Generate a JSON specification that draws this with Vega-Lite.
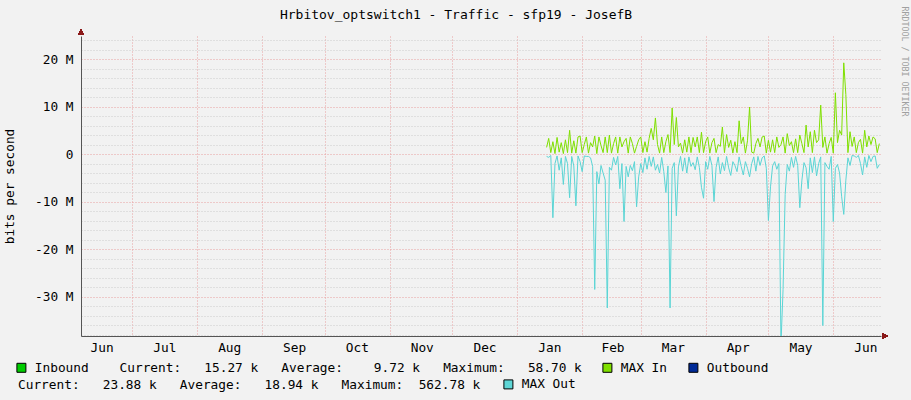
{
"$schema":"https://vega.github.io/schema/vega-lite/v6.json",
"width":800,"height":300,"autosize":"none",
"padding":{"left":81,"top":36,"right":30,"bottom":64},
"background":"#f2f2f2",
"title":{"text":"Hrbitov_optswitch1 - Traffic - sfp19 - JosefB","font":"DejaVu Sans Mono","fontSize":13,"fontWeight":"normal","color":"#000000","anchor":"middle","frame":"group","dx":-25,"offset":-16},
"config":{
  "view":{"fill":"#ffffff","stroke":null},
  "axis":{"labelFont":"DejaVu Sans Mono","labelFontSize":12.8,"labelColor":"#000000","titleFont":"DejaVu Sans Mono","titleFontSize":12.8,"titleFontWeight":"normal","titleColor":"#000000"},
  "legend":{"labelFont":"DejaVu Sans Mono","labelFontSize":12.8,"labelColor":"#000000","titleFont":"DejaVu Sans Mono","titleFontSize":12.8,"titleFontWeight":"normal","titleColor":"#000000","padding":0}
},
"data":{"values":[
{"date":"2025-01-15","max_in":1.4,"max_out":-0.5},
{"date":"2025-01-16","max_in":3.3,"max_out":-0.7},
{"date":"2025-01-17","max_in":0.3,"max_out":-0.3},
{"date":"2025-01-18","max_in":2.6,"max_out":-13.4},
{"date":"2025-01-19","max_in":0.1,"max_out":-2.0},
{"date":"2025-01-20","max_in":3.5,"max_out":-0.4},
{"date":"2025-01-21","max_in":0.4,"max_out":-3.4},
{"date":"2025-01-22","max_in":2.4,"max_out":-0.8},
{"date":"2025-01-23","max_in":0.1,"max_out":-6.4},
{"date":"2025-01-24","max_in":3.0,"max_out":-0.5},
{"date":"2025-01-25","max_in":0.3,"max_out":-2.0},
{"date":"2025-01-26","max_in":5.0,"max_out":-9.2},
{"date":"2025-01-27","max_in":0.2,"max_out":-0.5},
{"date":"2025-01-28","max_in":2.8,"max_out":-2.5},
{"date":"2025-01-29","max_in":0.2,"max_out":-10.9},
{"date":"2025-01-30","max_in":3.6,"max_out":-0.4},
{"date":"2025-01-31","max_in":3.8,"max_out":-1.6},
{"date":"2025-02-01","max_in":0.3,"max_out":-3.7},
{"date":"2025-02-02","max_in":2.0,"max_out":-0.4},
{"date":"2025-02-03","max_in":3.6,"max_out":-0.5},
{"date":"2025-02-04","max_in":0.2,"max_out":-0.5},
{"date":"2025-02-05","max_in":2.4,"max_out":-0.8},
{"date":"2025-02-06","max_in":1.5,"max_out":-2.6},
{"date":"2025-02-07","max_in":3.8,"max_out":-28.5},
{"date":"2025-02-08","max_in":0.1,"max_out":-3.7},
{"date":"2025-02-09","max_in":3.6,"max_out":-6.3},
{"date":"2025-02-10","max_in":1.8,"max_out":-2.4},
{"date":"2025-02-11","max_in":0.3,"max_out":-4.0},
{"date":"2025-02-12","max_in":3.6,"max_out":-5.5},
{"date":"2025-02-13","max_in":0.3,"max_out":-32.4},
{"date":"2025-02-14","max_in":4.0,"max_out":-2.8},
{"date":"2025-02-15","max_in":0.2,"max_out":-3.4},
{"date":"2025-02-16","max_in":2.2,"max_out":-0.7},
{"date":"2025-02-17","max_in":3.6,"max_out":-2.3},
{"date":"2025-02-18","max_in":0.2,"max_out":-0.5},
{"date":"2025-02-19","max_in":3.6,"max_out":-7.3},
{"date":"2025-02-20","max_in":1.5,"max_out":-2.0},
{"date":"2025-02-21","max_in":2.6,"max_out":-14.2},
{"date":"2025-02-22","max_in":3.3,"max_out":-2.6},
{"date":"2025-02-23","max_in":0.2,"max_out":-4.8},
{"date":"2025-02-24","max_in":3.6,"max_out":-2.4},
{"date":"2025-02-25","max_in":2.2,"max_out":-3.5},
{"date":"2025-02-26","max_in":0.2,"max_out":-1.6},
{"date":"2025-02-27","max_in":1.6,"max_out":-11.1},
{"date":"2025-02-28","max_in":3.0,"max_out":-4.8},
{"date":"2025-03-01","max_in":3.6,"max_out":-2.0},
{"date":"2025-03-02","max_in":0.3,"max_out":-3.9},
{"date":"2025-03-03","max_in":2.6,"max_out":-0.8},
{"date":"2025-03-04","max_in":0.4,"max_out":-3.2},
{"date":"2025-03-05","max_in":3.3,"max_out":-0.5},
{"date":"2025-03-06","max_in":5.4,"max_out":-2.6},
{"date":"2025-03-07","max_in":3.0,"max_out":-0.6},
{"date":"2025-03-08","max_in":7.6,"max_out":-3.4},
{"date":"2025-03-09","max_in":2.0,"max_out":-2.2},
{"date":"2025-03-10","max_in":0.2,"max_out":-4.0},
{"date":"2025-03-11","max_in":3.6,"max_out":-0.7},
{"date":"2025-03-12","max_in":0.3,"max_out":-3.7},
{"date":"2025-03-13","max_in":2.6,"max_out":-8.1},
{"date":"2025-03-14","max_in":4.1,"max_out":-2.5},
{"date":"2025-03-15","max_in":0.3,"max_out":-32.4},
{"date":"2025-03-16","max_in":9.7,"max_out":-3.0},
{"date":"2025-03-17","max_in":2.0,"max_out":-1.8},
{"date":"2025-03-18","max_in":7.7,"max_out":-13.0},
{"date":"2025-03-19","max_in":1.5,"max_out":-2.7},
{"date":"2025-03-20","max_in":2.3,"max_out":-0.5},
{"date":"2025-03-21","max_in":0.2,"max_out":-3.6},
{"date":"2025-03-22","max_in":3.0,"max_out":-0.8},
{"date":"2025-03-23","max_in":0.4,"max_out":-4.0},
{"date":"2025-03-24","max_in":3.6,"max_out":-0.6},
{"date":"2025-03-25","max_in":0.3,"max_out":-2.6},
{"date":"2025-03-26","max_in":3.5,"max_out":-1.8},
{"date":"2025-03-27","max_in":1.5,"max_out":-3.3},
{"date":"2025-03-28","max_in":3.6,"max_out":-0.6},
{"date":"2025-03-29","max_in":0.3,"max_out":-2.8},
{"date":"2025-03-30","max_in":4.6,"max_out":-7.0},
{"date":"2025-03-31","max_in":0.3,"max_out":-9.3},
{"date":"2025-04-01","max_in":2.6,"max_out":-1.6},
{"date":"2025-04-02","max_in":3.6,"max_out":-3.2},
{"date":"2025-04-03","max_in":0.2,"max_out":-0.5},
{"date":"2025-04-04","max_in":2.4,"max_out":-2.4},
{"date":"2025-04-05","max_in":3.3,"max_out":-10.0},
{"date":"2025-04-06","max_in":0.3,"max_out":-2.8},
{"date":"2025-04-07","max_in":2.0,"max_out":-0.6},
{"date":"2025-04-08","max_in":1.6,"max_out":-4.2},
{"date":"2025-04-09","max_in":5.7,"max_out":-1.8},
{"date":"2025-04-10","max_in":0.3,"max_out":-3.5},
{"date":"2025-04-11","max_in":4.1,"max_out":-0.5},
{"date":"2025-04-12","max_in":1.4,"max_out":-2.9},
{"date":"2025-04-13","max_in":2.9,"max_out":-4.5},
{"date":"2025-04-14","max_in":0.2,"max_out":-1.6},
{"date":"2025-04-15","max_in":2.6,"max_out":-2.4},
{"date":"2025-04-16","max_in":0.3,"max_out":-3.7},
{"date":"2025-04-17","max_in":7.0,"max_out":-0.6},
{"date":"2025-04-18","max_in":2.2,"max_out":-2.6},
{"date":"2025-04-19","max_in":3.6,"max_out":-4.4},
{"date":"2025-04-20","max_in":0.2,"max_out":-1.6},
{"date":"2025-04-21","max_in":2.8,"max_out":-3.0},
{"date":"2025-04-22","max_in":9.9,"max_out":-4.8},
{"date":"2025-04-23","max_in":0.4,"max_out":-2.0},
{"date":"2025-04-24","max_in":0.2,"max_out":-0.6},
{"date":"2025-04-25","max_in":2.2,"max_out":-3.6},
{"date":"2025-04-26","max_in":3.3,"max_out":-0.5},
{"date":"2025-04-27","max_in":1.5,"max_out":-2.4},
{"date":"2025-04-28","max_in":3.6,"max_out":-0.8},
{"date":"2025-04-29","max_in":3.8,"max_out":-0.4},
{"date":"2025-04-30","max_in":0.2,"max_out":-3.0},
{"date":"2025-05-01","max_in":2.9,"max_out":-14.0},
{"date":"2025-05-02","max_in":0.4,"max_out":-6.9},
{"date":"2025-05-03","max_in":3.0,"max_out":-2.5},
{"date":"2025-05-04","max_in":0.3,"max_out":-1.6},
{"date":"2025-05-05","max_in":3.6,"max_out":-3.2},
{"date":"2025-05-06","max_in":1.4,"max_out":-2.0},
{"date":"2025-05-07","max_in":2.0,"max_out":-40.0},
{"date":"2025-05-08","max_in":3.6,"max_out":-28.5},
{"date":"2025-05-09","max_in":0.2,"max_out":-8.5},
{"date":"2025-05-10","max_in":4.3,"max_out":-2.2},
{"date":"2025-05-11","max_in":1.8,"max_out":-3.6},
{"date":"2025-05-12","max_in":2.6,"max_out":-0.7},
{"date":"2025-05-13","max_in":0.3,"max_out":-2.8},
{"date":"2025-05-14","max_in":3.2,"max_out":-0.5},
{"date":"2025-05-15","max_in":0.3,"max_out":-2.4},
{"date":"2025-05-16","max_in":4.0,"max_out":-11.3},
{"date":"2025-05-17","max_in":2.2,"max_out":-5.5},
{"date":"2025-05-18","max_in":0.3,"max_out":-1.8},
{"date":"2025-05-19","max_in":6.1,"max_out":-2.9},
{"date":"2025-05-20","max_in":1.5,"max_out":-7.3},
{"date":"2025-05-21","max_in":4.7,"max_out":-0.8},
{"date":"2025-05-22","max_in":0.3,"max_out":-3.9},
{"date":"2025-05-23","max_in":5.0,"max_out":-0.6},
{"date":"2025-05-24","max_in":2.4,"max_out":-4.6},
{"date":"2025-05-25","max_in":3.0,"max_out":-2.0},
{"date":"2025-05-26","max_in":10.3,"max_out":-0.6},
{"date":"2025-05-27","max_in":1.4,"max_out":-36.1},
{"date":"2025-05-28","max_in":3.6,"max_out":-1.8},
{"date":"2025-05-29","max_in":0.2,"max_out":-2.6},
{"date":"2025-05-30","max_in":2.2,"max_out":-3.2},
{"date":"2025-05-31","max_in":3.5,"max_out":-0.5},
{"date":"2025-06-01","max_in":0.2,"max_out":-14.2},
{"date":"2025-06-02","max_in":12.9,"max_out":-3.0},
{"date":"2025-06-03","max_in":2.4,"max_out":-2.2},
{"date":"2025-06-04","max_in":5.0,"max_out":-4.0},
{"date":"2025-06-05","max_in":4.0,"max_out":-9.0},
{"date":"2025-06-06","max_in":19.2,"max_out":-12.7},
{"date":"2025-06-07","max_in":12.5,"max_out":-5.5},
{"date":"2025-06-08","max_in":0.3,"max_out":-0.8},
{"date":"2025-06-09","max_in":4.7,"max_out":-2.4},
{"date":"2025-06-10","max_in":1.6,"max_out":-0.3},
{"date":"2025-06-11","max_in":3.6,"max_out":-0.4},
{"date":"2025-06-12","max_in":0.3,"max_out":-0.7},
{"date":"2025-06-13","max_in":2.4,"max_out":-0.3},
{"date":"2025-06-14","max_in":3.1,"max_out":-2.0},
{"date":"2025-06-15","max_in":0.2,"max_out":-4.4},
{"date":"2025-06-16","max_in":5.0,"max_out":-0.6},
{"date":"2025-06-17","max_in":1.5,"max_out":-2.8},
{"date":"2025-06-18","max_in":3.8,"max_out":-0.3},
{"date":"2025-06-19","max_in":2.0,"max_out":-1.6},
{"date":"2025-06-20","max_in":3.6,"max_out":-0.5},
{"date":"2025-06-21","max_in":3.2,"max_out":-0.4},
{"date":"2025-06-22","max_in":0.3,"max_out":-3.0},
{"date":"2025-06-23","max_in":2.2,"max_out":-2.2}
]},
"layer":[
{
 "mark":{"type":"line","color":"#7fe000","strokeWidth":1,"clip":true},
 "encoding":{
  "x":{"field":"date","type":"temporal",
   "scale":{"type":"utc","domain":[{"year":2024,"month":6,"date":6,"hours":12,"utc":true},{"year":2025,"month":6,"date":23,"hours":19,"minutes":12,"utc":true}],"nice":false},
   "axis":{"orient":"bottom","title":null,"labelExpr":"utcFormat(datum.value, '%b')",
    "values":[{"year":2024,"month":6,"date":16,"hours":8,"utc":true},{"year":2024,"month":7,"date":16,"hours":8,"utc":true},{"year":2024,"month":8,"date":16,"hours":8,"utc":true},{"year":2024,"month":9,"date":16,"hours":8,"utc":true},{"year":2024,"month":10,"date":16,"hours":8,"utc":true},{"year":2024,"month":11,"date":16,"hours":8,"utc":true},{"year":2024,"month":12,"date":16,"hours":8,"utc":true},{"year":2025,"month":1,"date":16,"hours":8,"utc":true},{"year":2025,"month":2,"date":15,"hours":12,"utc":true},{"year":2025,"month":3,"date":16,"hours":8,"utc":true},{"year":2025,"month":4,"date":16,"hours":8,"utc":true},{"year":2025,"month":5,"date":16,"hours":8,"utc":true},{"year":2025,"month":6,"date":16,"hours":8,"utc":true}],
    "grid":false,"ticks":false,"domain":true,"domainColor":"#555555","labelPadding":5,"labelBaseline":"top","labelAlign":"center","labelFlush":false,"labelOverlap":false}},
  "y":{"field":"max_in","type":"quantitative",
   "scale":{"domain":[-38.3,24.85],"nice":false,"zero":false},
   "axis":{"orient":"left","title":"bits per second","titlePadding":18,"values":[-30,-20,-10,0,10,20],
    "labelExpr":"datum.value == 0 ? '0\u00a0\u00a0' : datum.value + '\u00a0M'",
    "grid":true,"gridColor":"#e8a0a0","gridDash":[1,2],"ticks":false,"domain":true,"domainColor":"#555555","labelPadding":8,"labelBaseline":"middle","labelFlush":false,"labelOverlap":false}}
 }
},
{
 "mark":{"type":"line","color":"#5ad5d5","strokeWidth":1,"clip":true},
 "encoding":{
  "x":{"field":"date","type":"temporal",
   "scale":{"type":"utc","domain":[{"year":2024,"month":6,"date":6,"hours":12,"utc":true},{"year":2025,"month":6,"date":23,"hours":19,"minutes":12,"utc":true}],"nice":false},
   "axis":{"orient":"bottom","title":null,"labels":false,"ticks":false,"domain":false,
    "values":[{"year":2024,"month":7,"date":1,"utc":true},{"year":2024,"month":8,"date":1,"utc":true},{"year":2024,"month":9,"date":1,"utc":true},{"year":2024,"month":10,"date":1,"utc":true},{"year":2024,"month":11,"date":1,"utc":true},{"year":2024,"month":12,"date":1,"utc":true},{"year":2025,"month":1,"date":1,"utc":true},{"year":2025,"month":2,"date":1,"utc":true},{"year":2025,"month":3,"date":1,"utc":true},{"year":2025,"month":4,"date":1,"utc":true},{"year":2025,"month":5,"date":1,"utc":true},{"year":2025,"month":6,"date":1,"utc":true}],
    "grid":true,"gridColor":"#e8a0a0","gridDash":[1,2]}},
  "y":{"field":"max_out","type":"quantitative",
   "scale":{"domain":[-38.3,24.85],"nice":false,"zero":false},
   "axis":{"orient":"left","title":null,"labels":false,"ticks":false,"domain":false,
    "values":[-38,-36,-34,-32,-28,-26,-24,-22,-18,-16,-14,-12,-8,-6,-4,-2,2,4,6,8,12,14,16,18,22,24],
    "grid":true,"gridColor":"#cccccc","gridDash":[1,2]}}
 }
},
{
 "mark":{"type":"point","shape":"triangle-up","filled":true,"color":"#8b1a1a","opacity":1,"size":30},
 "encoding":{
  "x":{"datum":{"year":2024,"month":6,"date":6,"hours":12,"utc":true},"type":"temporal",
   "scale":{"type":"utc","domain":[{"year":2024,"month":6,"date":6,"hours":12,"utc":true},{"year":2025,"month":6,"date":23,"hours":19,"minutes":12,"utc":true}],"nice":false},"axis":null},
  "y":{"datum":25.7,"type":"quantitative","scale":{"domain":[-38.3,24.85],"nice":false,"zero":false},"axis":null}
 }
},
{
 "mark":{"type":"point","shape":"triangle-right","filled":true,"color":"#8b1a1a","opacity":1,"size":30},
 "encoding":{
  "x":{"datum":{"year":2025,"month":6,"date":25,"hours":17,"utc":true},"type":"temporal",
   "scale":{"type":"utc","domain":[{"year":2024,"month":6,"date":6,"hours":12,"utc":true},{"year":2025,"month":6,"date":23,"hours":19,"minutes":12,"utc":true}],"nice":false},"axis":null},
  "y":{"datum":-38.3,"type":"quantitative","scale":{"domain":[-38.3,24.85],"nice":false,"zero":false},
   "axis":{"orient":"right","labels":false,"ticks":false,"domain":false,"grid":false,"values":[],
    "title":"RRDTOOL / TOBI OETIKER","titleAngle":90,"titleFont":"DejaVu Sans Mono","titleFontSize":8.3,"titleFontWeight":"normal","titleColor":"#a0a0a0","titleX":22,"titleY":-30,"titleAlign":"left","titleBaseline":"middle"}}
 }
},
{
 "transform":[{"filter":"false"}],
 "mark":{"type":"square","filled":true},
 "encoding":{
  "color":{"field":"series","type":"nominal",
   "scale":{"domain":["Inbound","MAX In","Outbound"],"range":["#00cc00","#80e000","#002a97"]},
   "legend":{"orient":"none","legendX":-66,"legendY":325,"direction":"horizontal","title":null,"padding":0,
    "symbolType":"square","symbolSize":81,"symbolStrokeColor":"#000000","symbolStrokeWidth":1,"symbolOpacity":1,
    "labelOffset":7,"labelLimit":1000,"columnPadding":18,"labelBaseline":"middle",
    "labelExpr":"datum.label == 'Inbound' ? 'Inbound\u00a0\u00a0\u00a0\u00a0Current:\u00a0\u00a0\u00a015.27\u00a0k\u00a0\u00a0\u00a0Average:\u00a0\u00a0\u00a0\u00a09.72\u00a0k\u00a0\u00a0\u00a0Maximum:\u00a0\u00a0\u00a058.70\u00a0k' : datum.label"}}
 }
},
{
 "transform":[{"filter":"false"}],
 "mark":{"type":"square","filled":true},
 "encoding":{
  "color":{"field":"series2","type":"nominal",
   "scale":{"domain":["MAX Out"],"range":["#5ed6d6"]},
   "legend":{"orient":"none","legendX":-63,"legendY":342,"direction":"horizontal","padding":0,
    "title":"Current:\u00a0\u00a0\u00a023.88\u00a0k\u00a0\u00a0\u00a0Average:\u00a0\u00a0\u00a018.94\u00a0k\u00a0\u00a0\u00a0Maximum:\u00a0\u00a0562.78\u00a0k",
    "titleOrient":"left","titlePadding":21,"titleLimit":1000,"titleBaseline":"middle",
    "symbolType":"square","symbolSize":81,"symbolStrokeColor":"#000000","symbolStrokeWidth":1,"symbolOpacity":1,
    "labelOffset":7,"labelLimit":1000,"labelBaseline":"middle"}}
 }
}
],
"resolve":{"scale":{"color":"independent"},"axis":{"x":"independent","y":"independent"}}
}
